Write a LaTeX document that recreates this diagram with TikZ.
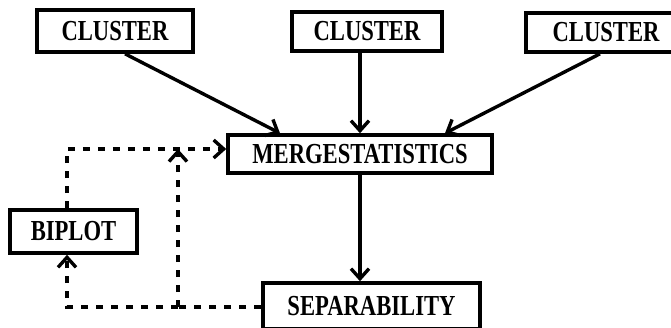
\documentclass[tikz,border=0pt]{standalone}
\usepackage{fontspec}
\newfontfamily\boxfont{Liberation Serif}[UprightFont={* Bold}, FakeStretch=0.78]
\usetikzlibrary{arrows.meta}
\tikzset{
  box/.style={draw, line width=3.6pt, rectangle, inner sep=0pt, font=\boxfont\fontsize{29}{29}\selectfont, text=black},
  barb/.style={-{Straight Barb[length=10pt,width=18pt,line width=3.4pt]}},
  flow/.style={line width=3.4pt, barb},
  fback/.style={line width=3.6pt, dash pattern=on 7pt off 8pt}
}
\begin{document}
\begin{tikzpicture}[x=1pt,y=-1pt]
\useasboundingbox (0,0) rectangle (671,327);
\node[box, minimum width=156pt, minimum height=42pt] (c1) at (115,31) {CLUSTER};
\node[box, minimum width=150pt, minimum height=39pt] (c2) at (367,31.5) {CLUSTER};
\node[box, minimum width=160pt, minimum height=39pt] (c3) at (606,32.5) {CLUSTER};
\node[box, minimum width=264pt, minimum height=38pt] (merge) at (360,154) {MERGESTATISTICS};
\node[box, minimum width=127pt, minimum height=43pt] (biplot) at (73.5,231.5) {BIPLOT};
\node[box, minimum width=217pt, minimum height=46pt] (sep) at (371.5,306) {SEPARABILITY};
% reference x positions
\coordinate (x125) at (125,0);
\coordinate (x280) at (280,0);
\coordinate (x600) at (600,0);
\coordinate (x445) at (445,0);
\coordinate (x360) at (360,0);
\coordinate (xl) at (67,0);
\coordinate (yb) at (0,307);
\coordinate (yt) at (0,149);
\coordinate (j) at (178,307);
\coordinate (jt) at (178,149);
% solid flows
\draw[flow] (c1.south -| x125) -- (merge.north -| x280);
\draw[flow] (c2.south -| x360) -- (merge.north -| x360);
\draw[flow] (c3.south -| x600) -- (merge.north -| x445);
\draw[flow] (merge.south -| x360) -- (sep.north -| x360);
% feedback (dashed)
\draw[fback] (sep.west |- yb) -- (j);
\draw[fback, barb] (j) -- (jt);
\draw[fback, barb] (j) -- (j -| xl) -- (biplot.south -| xl);
\draw[fback, barb] (biplot.north -| xl) -- (xl |- yt) -- (merge.west |- yt);
\end{tikzpicture}
\end{document}
